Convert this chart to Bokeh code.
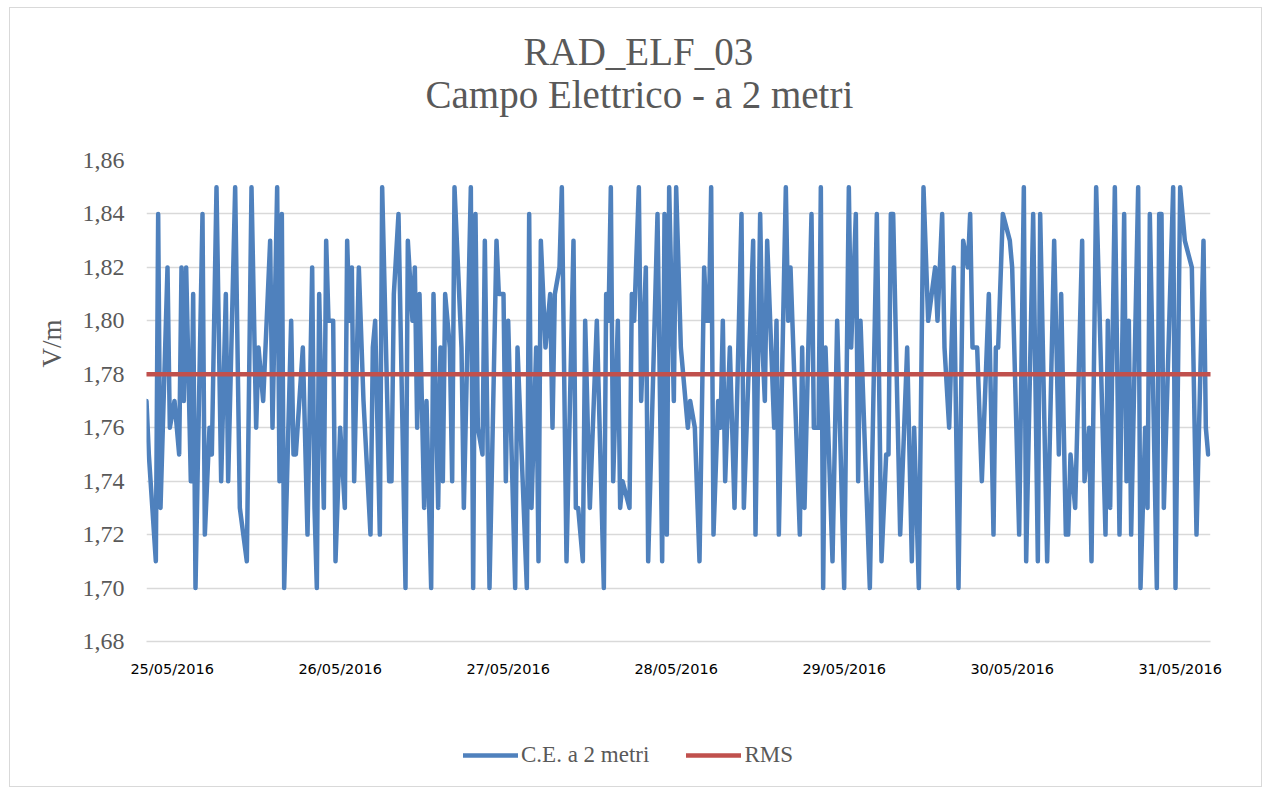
from datetime import datetime, timedelta

from bokeh.plotting import figure
from bokeh.layouts import column
from bokeh.models import (Range1d, FixedTicker, CustomJSTickFormatter,
                          DatetimeTickFormatter, Legend, LegendItem, Title,
                          ColumnDataSource)
from bokeh.embed import file_html
from bokeh.resources import INLINE

# ---------------- data ----------------
title_lines = ["RAD_ELF_03", "Campo Elettrico - a 2 metri"]
y_label = "V/m"
series_name = "C.E. a 2 metri"
rms_name = "RMS"

start_day = datetime(2016, 5, 25)
step_minutes = 20  # sample spacing

# sample number (20-min steps from 25/05/2016 00:00) and value in V/m
slots = [-11, -10, -7, -6, -5, -2, -1, 1, 3, 4, 5, 6, 8, 9, 10, 13, 14, 16, 17, 19,
         21, 23, 24, 27, 29, 32, 34, 36, 37, 39, 42, 43, 45, 46, 47, 48, 51, 52, 53, 56,
         58, 60, 61, 62, 63, 65, 66, 67, 69, 70, 72, 74, 75, 76, 77, 78, 80, 82, 85, 86,
         87, 89, 90, 93, 94, 95, 97, 100, 101, 103, 104, 105, 106, 108, 109, 111, 112, 114, 115, 116,
         117, 119, 120, 121, 124, 125, 128, 129, 130, 131, 133, 134, 136, 139, 140, 142, 143, 144, 147, 148,
         152, 153, 154, 156, 157, 158, 160, 162, 163, 164, 166, 167, 169, 172, 173, 174, 176, 177, 179, 182,
         185, 186, 187, 188, 189, 191, 192, 193, 196, 197, 198, 200, 201, 203, 204, 208, 210, 211, 212, 213,
         215, 216, 218, 221, 222, 224, 226, 228, 229, 230, 231, 232, 234, 235, 236, 237, 239, 240, 241, 244,
         245, 249, 250, 252, 253, 254, 255, 258, 259, 260, 263, 264, 265, 269, 270, 271, 274, 275, 277, 278,
         279, 280, 283, 285, 288, 290, 291, 293, 294, 295, 299, 302, 304, 306, 307, 308, 309, 312, 315, 317,
         318, 320, 322, 324, 327, 328, 330, 331, 333, 335, 337, 339, 341, 342, 343, 345, 347, 350, 352, 353,
         354, 356, 359, 360, 363, 365, 366, 369, 371, 372, 375, 378, 380, 381, 383, 384, 385, 387, 390, 391,
         393, 394, 396, 400, 401, 402, 404, 406, 408, 409, 410, 411, 414, 415, 417, 418, 419, 422, 423, 424,
         425, 429, 430, 432, 434, 437, 439, 442, 443, 444]
values = [1.77, 1.75, 1.71, 1.84, 1.73, 1.82, 1.76, 1.77, 1.75, 1.82, 1.77, 1.82, 1.74, 1.81, 1.70, 1.84, 1.72, 1.76, 1.75, 1.85,
          1.74, 1.81, 1.74, 1.85, 1.73, 1.71, 1.85, 1.76, 1.79, 1.77, 1.83, 1.76, 1.85, 1.74, 1.84, 1.70, 1.80, 1.75, 1.75, 1.79,
          1.72, 1.82, 1.73, 1.70, 1.81, 1.73, 1.83, 1.80, 1.80, 1.71, 1.76, 1.73, 1.83, 1.80, 1.82, 1.74, 1.82, 1.77, 1.72, 1.79,
          1.80, 1.72, 1.85, 1.74, 1.74, 1.81, 1.84, 1.70, 1.83, 1.80, 1.82, 1.76, 1.81, 1.73, 1.77, 1.70, 1.81, 1.73, 1.79, 1.74,
          1.81, 1.79, 1.74, 1.85, 1.79, 1.73, 1.85, 1.70, 1.84, 1.76, 1.75, 1.83, 1.70, 1.83, 1.81, 1.81, 1.74, 1.80, 1.70, 1.79,
          1.70, 1.84, 1.73, 1.79, 1.71, 1.83, 1.79, 1.81, 1.76, 1.81, 1.82, 1.85, 1.71, 1.83, 1.73, 1.73, 1.71, 1.80, 1.73, 1.80,
          1.70, 1.81, 1.80, 1.85, 1.74, 1.80, 1.73, 1.74, 1.73, 1.81, 1.80, 1.85, 1.77, 1.82, 1.71, 1.84, 1.71, 1.84, 1.72, 1.85,
          1.77, 1.85, 1.79, 1.76, 1.77, 1.76, 1.71, 1.82, 1.80, 1.80, 1.85, 1.72, 1.77, 1.76, 1.80, 1.74, 1.79, 1.76, 1.73, 1.84,
          1.73, 1.83, 1.72, 1.84, 1.79, 1.77, 1.83, 1.76, 1.80, 1.72, 1.85, 1.80, 1.82, 1.72, 1.79, 1.73, 1.84, 1.76, 1.76, 1.85,
          1.70, 1.79, 1.71, 1.80, 1.70, 1.85, 1.79, 1.84, 1.74, 1.80, 1.70, 1.84, 1.71, 1.75, 1.75, 1.84, 1.84, 1.72, 1.79, 1.71,
          1.76, 1.70, 1.85, 1.80, 1.82, 1.80, 1.84, 1.79, 1.76, 1.82, 1.70, 1.83, 1.82, 1.84, 1.79, 1.79, 1.74, 1.81, 1.72, 1.79,
          1.79, 1.84, 1.83, 1.82, 1.72, 1.85, 1.71, 1.84, 1.71, 1.84, 1.71, 1.83, 1.75, 1.81, 1.72, 1.72, 1.75, 1.73, 1.83, 1.74,
          1.76, 1.71, 1.85, 1.72, 1.80, 1.73, 1.85, 1.72, 1.84, 1.74, 1.80, 1.72, 1.85, 1.70, 1.76, 1.73, 1.84, 1.70, 1.84, 1.84,
          1.73, 1.85, 1.70, 1.85, 1.83, 1.82, 1.72, 1.83, 1.76, 1.75]
rms_value = 1.78

y_ticks = [1.68, 1.70, 1.72, 1.74, 1.76, 1.78, 1.80, 1.82, 1.84, 1.86]
x_tick_dates = ["2016-05-25", "2016-05-26", "2016-05-27", "2016-05-28",
                "2016-05-29", "2016-05-30", "2016-05-31"]

# ---------------- build ----------------
times = [start_day + timedelta(minutes=step_minutes * s) for s in slots]
src = ColumnDataSource(dict(t=times, v=values))
rms_src = ColumnDataSource(dict(t=[times[0], times[-1] + timedelta(minutes=step_minutes)],
                                v=[rms_value, rms_value]))

SERIF = "Liberation Serif"
GREY = "#595959"
BLUE = "#4F81BD"
RED = "#C0504D"

p = figure(frame_width=1064, frame_height=481, output_backend="svg", toolbar_location=None,
           x_axis_type="datetime",
           x_range=Range1d(times[0], times[-1] + timedelta(minutes=step_minutes)),
           y_range=Range1d(y_ticks[0], y_ticks[-1]),
           min_border_left=136, min_border_right=51, min_border_top=152, min_border_bottom=60)
p.outline_line_color = None
p.background_fill_color = "white"
p.border_fill_color = "white"

# grid
p.xgrid.grid_line_color = None
p.ygrid.grid_line_color = "#D9D9D9"
p.ygrid.grid_line_width = 1.5
p.ygrid.ticker = FixedTicker(ticks=y_ticks)

# y axis
p.yaxis.ticker = FixedTicker(ticks=y_ticks)
p.yaxis.formatter = CustomJSTickFormatter(code="return tick.toFixed(2).replace('.', ',');")
p.yaxis.axis_line_color = None
p.yaxis.major_tick_line_color = None
p.yaxis.minor_tick_line_color = None
p.yaxis.major_tick_out = 0
p.yaxis.major_label_standoff = 22
p.yaxis.major_label_text_font = SERIF
p.yaxis.major_label_text_font_size = "24px"
p.yaxis.major_label_text_color = GREY

# x axis
epoch = datetime(1970, 1, 1)
x_ticks = [(datetime.strptime(d, "%Y-%m-%d") - epoch).total_seconds() * 1000 for d in x_tick_dates]
p.xaxis.ticker = FixedTicker(ticks=x_ticks)
fmt = "%d/%m/%Y"
p.xaxis.formatter = DatetimeTickFormatter(microseconds=fmt, milliseconds=fmt, seconds=fmt,
                                          minsec=fmt, minutes=fmt, hourmin=fmt, hours=fmt,
                                          days=fmt, months=fmt, years=fmt)
p.xaxis.axis_line_color = "#D9D9D9"
p.xaxis.axis_line_width = 1.5
p.xaxis.major_tick_line_color = None
p.xaxis.minor_tick_line_color = None
p.xaxis.major_tick_out = 0
p.xaxis.major_label_standoff = 19
p.xaxis.major_label_text_font = "DejaVu Sans"
p.xaxis.major_label_text_font_size = "14.5px"
p.xaxis.major_label_text_color = "black"

# series
line_ce = dict(line_color=BLUE, line_width=4.5, line_join="round", line_cap="round")
line_rms = dict(line_color=RED, line_width=4.5, line_cap="round")
p.line("t", "v", source=src, **line_ce)
p.line("t", "v", source=rms_src, **line_rms)

# titles (stacked from the frame outward)
title_style = dict(text_font=SERIF, text_font_size="39px", text_color=GREY,
                   text_font_style="normal", align="left", vertical_align="bottom")
p.add_layout(Title(text=" ", standoff=0, offset=0, **title_style), "above")          # gap
p.add_layout(Title(text=title_lines[1], standoff=0, offset=279, **title_style), "above")
p.add_layout(Title(text=title_lines[0], standoff=-4, offset=377, **title_style), "above")

# y axis title
p.add_layout(Title(text=y_label, standoff=26, offset=274, text_font=SERIF, text_font_size="27px",
                   text_color=GREY, text_font_style="normal", align="left",
                   vertical_align="bottom"), "left")

# ---------------- legend strip under the chart ----------------
# same series re-used here (they fall outside this strip's ranges, only the legend shows)
leg = figure(width=1251, height=85, output_backend="svg", toolbar_location=None,
             x_range=Range1d(0, 1), y_range=Range1d(0, 1),
             x_axis_location=None, y_axis_location=None,
             min_border_left=0, min_border_right=0, min_border_top=0, min_border_bottom=0)
leg.grid.visible = False
leg.outline_line_color = None
leg.background_fill_color = "white"
leg.border_fill_color = "white"
k_ce = leg.line("t", "v", source=src, **line_ce)
k_rms = leg.line("t", "v", source=rms_src, **line_rms)
legend = Legend(items=[LegendItem(label=series_name, renderers=[k_ce]),
                       LegendItem(label=rms_name, renderers=[k_rms])],
                location=(317, 18), orientation="horizontal",
                glyph_width=55, glyph_height=22, label_standoff=3, spacing=37,
                padding=0, margin=0, border_line_color=None, background_fill_alpha=0,
                label_text_font=SERIF, label_text_font_size="23px", label_text_color=GREY)
leg.add_layout(legend, "center")

page = column(p, leg, spacing=0)
page.styles = {"border": "1px solid #d9d9d9", "margin-left": "9px", "margin-top": "7px"}

open("out.html", "w").write(file_html(page, INLINE))
